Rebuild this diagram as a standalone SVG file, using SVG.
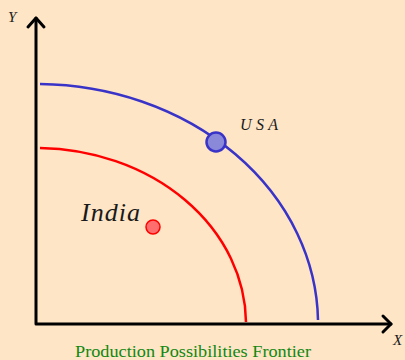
<svg xmlns="http://www.w3.org/2000/svg" width="405" height="360" viewBox="0 0 405 360">
<style>
.axis{stroke:#000;stroke-width:3;fill:none;stroke-linecap:round;stroke-linejoin:round}
.lbl{font-family:"Liberation Serif",serif;font-style:italic;fill:#1a1a1a}
</style>
<rect width="405" height="360" fill="#fde5c6"/>
<g id="axes">
<polyline class="axis" points="36,18 36,324 391,324"/>
<polyline class="axis" points="28,27 36,18 44,27"/>
<polyline class="axis" points="383,316 391,324 383,332"/>
</g>
<g id="connectors">
<path d="M40,84 A282,240 0 0 1 318,320" fill="none" stroke="#3a33c8" stroke-width="2.5"/>
<path d="M40,148 A210,176 0 0 1 246,322" fill="none" stroke="#ff0000" stroke-width="2.5"/>
</g>
<g id="usa">
<circle cx="216" cy="142" r="9.5" fill="#8a88d8" stroke="#3a33c8" stroke-width="2.5"/>
<text class="lbl" x="240" y="130" font-size="16" textLength="38" lengthAdjust="spacing">USA</text>
</g>
<g id="india">
<circle cx="153" cy="227" r="7" fill="#ff6e6e" stroke="#ff0000" stroke-width="1.5"/>
<text class="lbl" x="81" y="221" font-size="26" textLength="59" lengthAdjust="spacing">India</text>
</g>
<text class="lbl" x="8" y="22" font-size="15">Y</text>
<text class="lbl" x="393" y="345" font-size="15">X</text>
<text x="75" y="357" font-family="'Liberation Serif',serif" font-size="17" fill="#118811" textLength="236" lengthAdjust="spacingAndGlyphs">Production Possibilities Frontier</text>
</svg>
